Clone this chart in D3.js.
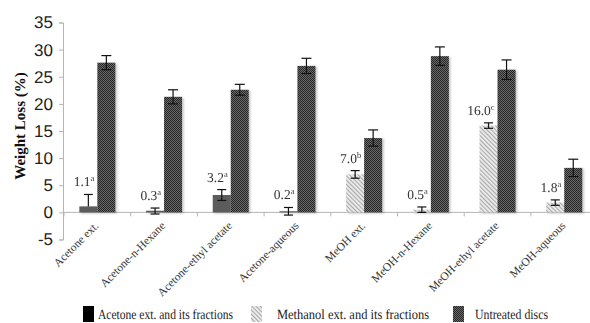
<!DOCTYPE html>
<html>
<head>
<meta charset="utf-8">
<script src="https://cdn.jsdelivr.net/npm/d3@7"></script>
<style>
  html, body { margin: 0; padding: 0; background: #fff; }
  svg { display: block; }
  text { text-rendering: geometricPrecision; }
</style>
</head>
<body>
<svg id="chart" width="590" height="323"></svg>
<script>
// Weight loss of treated vs untreated discs, per extract / fraction
const categories = ["Acetone ext.", "Acetone-n-Hexane", "Acetone-ethyl acetate", "Acetone-aqueous",
                    "MeOH ext.", "MeOH-n-Hexane", "MeOH-ethyl acetate", "MeOH-aqueous"];
const acetone   = [1.1, 0.3, 3.2, 0.2, null, null, null, null];
const methanol  = [null, null, null, null, 7.0, 0.5, 16.0, 1.8];
const untreated = [27.6, 21.3, 22.6, 27.0, 13.7, 28.8, 26.3, 8.2];
const treatErrUp   = [2.2, 0.5, 1.0, 0.7, 0.7, 0.5, 0.5, 0.5];
const treatErrDown = [0.0, 0.6, 1.0, 0.7, 0.7, 0.5, 0.5, 0.5];
const untreatedErr = [1.3, 1.3, 1.0, 1.4, 1.5, 1.7, 1.8, 1.6];
const letters = ["a", "a", "a", "a", "b", "a", "c", "a"];
const yTicks = [-5, 0, 5, 10, 15, 20, 25, 30, 35];
const seriesNames = ["Acetone ext. and its fractions", "Methanol ext. and its fractions", "Untreated discs"];

const svg = d3.select("#chart");
const defs = svg.append("defs");

// fills: dark solid, light diagonal hatch, dark checker
const hatch = defs.append("pattern").attr("id", "hatch")
  .attr("patternUnits", "userSpaceOnUse").attr("width", 3).attr("height", 3)
  .attr("patternTransform", "rotate(-45)");
hatch.append("rect").attr("width", 3).attr("height", 3).attr("fill", "#ececec");
hatch.append("rect").attr("width", 1.1).attr("height", 3).attr("fill", "#a8a8a8");

const checker = defs.append("pattern").attr("id", "checker")
  .attr("patternUnits", "userSpaceOnUse").attr("width", 2).attr("height", 2);
checker.append("rect").attr("width", 2).attr("height", 2).attr("fill", "#6a6a6a");
checker.append("rect").attr("width", 1).attr("height", 1).attr("fill", "#262626");
checker.append("rect").attr("x", 1).attr("y", 1).attr("width", 1).attr("height", 1).attr("fill", "#262626");

const shadow = defs.append("filter").attr("id", "shadow")
  .attr("x", "-20%").attr("y", "-5%").attr("width", "150%").attr("height", "115%");
shadow.append("feDropShadow").attr("dx", 1.5).attr("dy", 1).attr("stdDeviation", 1)
  .attr("flood-color", "#000").attr("flood-opacity", 0.25);

const x = d3.scaleBand().domain(categories).range([64, 597.6]).paddingInner(0).paddingOuter(0);
const y = d3.scaleLinear().domain([-5, 35]).range([239.5, 22.5]);
const barW = 18;

// y axis
const yAxis = svg.append("g").attr("transform", "translate(63,0)")
  .call(d3.axisLeft(y).tickValues(yTicks).tickSize(4).tickPadding(6).tickFormat(d => String(d)));
yAxis.select(".domain").attr("stroke", "#b5b5b5");
yAxis.selectAll(".tick line").attr("stroke", "#b5b5b5");
yAxis.selectAll(".tick text")
  .attr("font-family", "Liberation Sans, Arial, sans-serif")
  .attr("font-size", 17).attr("fill", "#222");

// zero baseline with category ticks
const xAxis = svg.append("g").attr("transform", `translate(0,${y(0)})`);
xAxis.append("line").attr("x1", 63).attr("x2", 597.6).attr("stroke", "#b5b5b5");
xAxis.selectAll("line.sep").data(d3.range(categories.length + 1)).enter().append("line")
  .attr("class", "sep")
  .attr("x1", i => 64 + i * x.bandwidth()).attr("x2", i => 64 + i * x.bandwidth())
  .attr("y1", 0).attr("y2", 4).attr("stroke", "#b5b5b5");

// category labels
svg.append("g").selectAll("text").data(categories).enter().append("text")
  .attr("transform", d => `translate(${x(d) + x.bandwidth() / 2 + 2},${y(0) + 14}) rotate(-45)`)
  .attr("text-anchor", "end")
  .attr("font-family", "Liberation Serif, Times New Roman, serif")
  .attr("font-size", 11.5).attr("fill", "#333")
  .text(d => d);

// y title
svg.append("text")
  .attr("transform", `translate(25,${(y(35) + y(-5)) / 2 - 5}) rotate(-90)`)
  .attr("text-anchor", "middle")
  .attr("font-family", "Liberation Serif, Times New Roman, serif")
  .attr("font-weight", "bold").attr("font-size", 15).attr("fill", "#111")
  .text("Weight Loss (%)");

// bars
const rows = categories.map((c, i) => ({
  cat: c,
  treat: acetone[i] != null ? acetone[i] : methanol[i],
  kind: acetone[i] != null ? "acetone" : "methanol",
  up: treatErrUp[i], down: treatErrDown[i],
  unt: untreated[i], uErr: untreatedErr[i], letter: letters[i]
}));
const cx = d => x(d.cat) + x.bandwidth() / 2;
const fillFor = k => k === "acetone" ? "#5c5c5c" : "url(#hatch)";

const bars = svg.append("g").attr("filter", "url(#shadow)");
bars.selectAll("rect.treat").data(rows).enter().append("rect")
  .attr("class", "treat")
  .attr("x", d => cx(d) - barW).attr("width", barW)
  .attr("y", d => y(Math.max(0, d.treat))).attr("height", d => Math.abs(y(d.treat) - y(0)))
  .attr("fill", d => fillFor(d.kind));
bars.selectAll("rect.unt").data(rows).enter().append("rect")
  .attr("class", "unt")
  .attr("x", d => cx(d)).attr("width", barW)
  .attr("y", d => y(d.unt)).attr("height", d => y(0) - y(d.unt))
  .attr("fill", "url(#checker)");

// error bars (lower cap omitted where the lower arm is zero)
const errG = svg.append("g").attr("stroke", "#111").attr("stroke-width", 1.2);
function errBar(xc, val, down, up, capHalf) {
  const g = errG.append("g");
  g.append("line").attr("x1", xc).attr("x2", xc).attr("y1", y(val - down)).attr("y2", y(val + up));
  g.append("line").attr("x1", xc - capHalf).attr("x2", xc + capHalf)
    .attr("y1", y(val + up)).attr("y2", y(val + up));
  if (down > 0) {
    g.append("line").attr("x1", xc - capHalf).attr("x2", xc + capHalf)
      .attr("y1", y(val - down)).attr("y2", y(val - down));
  }
}
rows.forEach(d => {
  errBar(cx(d) - barW / 2, d.treat, d.down, d.up, 4.5);
  errBar(cx(d) + barW / 2, d.unt, d.uErr, d.uErr, 5);
});

// value labels with significance letters
const lab = svg.append("g").attr("opacity", 0.995);
rows.forEach(d => {
  const t = lab.append("text")
    .attr("x", cx(d) - barW / 2 + 6).attr("y", y(d.treat + d.up) - 8)
    .attr("text-anchor", "end")
    .attr("font-family", "Liberation Serif, Times New Roman, serif")
    .attr("font-size", 13.5).attr("fill", "#333");
  t.append("tspan").text(d3.format(".1f")(d.treat));
  t.append("tspan").attr("font-size", 8.5).attr("dy", -5).text(d.letter);
});

// legend
const legend = svg.append("g");
const legendItems = [
  { name: seriesNames[0], fill: "#000", sx: 83, tx: 98, tw: 135 },
  { name: seriesNames[1], fill: "url(#hatch)", sx: 251, tx: 277, tw: 152 },
  { name: seriesNames[2], fill: "url(#checker)", sx: 453, tx: 475, tw: 73 }
];
legendItems.forEach(it => {
  legend.append("rect").attr("x", it.sx).attr("y", 306).attr("width", 11).attr("height", 16)
    .attr("fill", it.fill);
  legend.append("text").attr("x", it.tx).attr("y", 319)
    .attr("font-family", "Liberation Serif, Times New Roman, serif")
    .attr("font-size", 14).attr("fill", "#222")
    .attr("textLength", it.tw).attr("lengthAdjust", "spacingAndGlyphs")
    .text(it.name);
});
</script>
</body>
</html>
